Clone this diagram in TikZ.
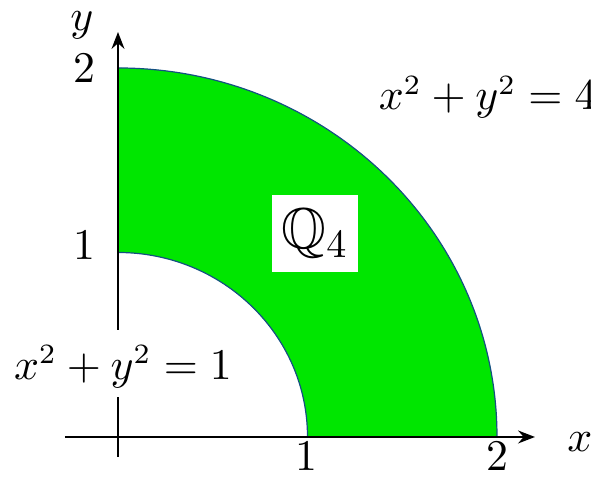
\documentclass[tikz,border=0pt]{standalone}
\usepackage{amssymb}
\usetikzlibrary{arrows.meta}
\definecolor{regiongreen}{RGB}{0,230,0}
\definecolor{edgeblue}{RGB}{20,80,130}
\begin{document}
\begin{tikzpicture}[x=0.25pt,y=0.25pt,
  axisline/.style={line width=0.62pt,-{Stealth[length=4.2pt,width=3.2pt]}},
  edge/.style={edgeblue,line width=0.3pt},
  lbl/.style={inner sep=0pt,font=\fontsize{10.7}{13}\selectfont}]
\useasboundingbox (0,0) rectangle (591,477);
\coordinate (O) at (118,40);
\coordinate (xs) at (65,40);
\coordinate (xe) at (535,40);
\coordinate (ys) at (118,20);
\coordinate (ye) at (118,445);
\begin{scope}[shift={(O)},x=47.375pt,y=46.125pt]
  \fill[regiongreen] (1,0) -- (2,0) arc[start angle=0,end angle=90,radius=2]
     -- (0,1) arc[start angle=90,end angle=0,radius=1] -- cycle;
  \draw[edge] (2,0) arc[start angle=0,end angle=90,radius=2];
  \draw[edge] (0,1) arc[start angle=90,end angle=0,radius=1];
\end{scope}
\draw[axisline] (xs) -- (xe);
\draw[axisline] (ys) -- (ye);
\node[lbl] (ylab) at (82,452) {$y$};
\node[lbl] (xlab) at (580,35) {$x$};
\node[lbl] (y2) at (84,409) {$2$};
\node[lbl] (y1) at (84,232) {$1$};
\node[lbl] (x1) at (306,21) {$1$};
\node[lbl] (x2) at (497,21) {$2$};
\node[fill=white,lbl,minimum width=62.75pt,minimum height=16.75pt] (eqbox) at (127.5,113.5) {};
\node[lbl] (eqa) at (123,110) {$x^2+y^2=1$};
\node[lbl,anchor=base west] (eqb) at (378,367) {$x^2+y^2=4$};
\node[fill=white,inner sep=0pt,minimum width=21.5pt,minimum height=19.25pt] (q) at (315,243.5) {\Large$\mathbb{Q}_4$};
\end{tikzpicture}
\end{document}
